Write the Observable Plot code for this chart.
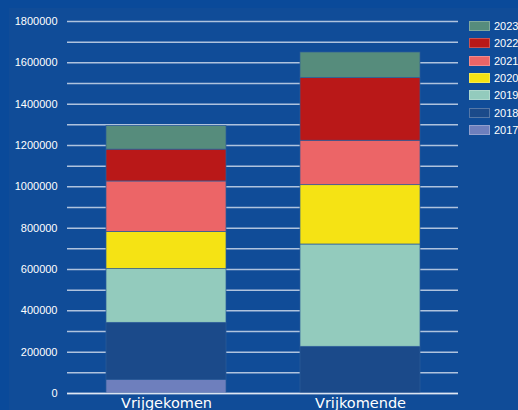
<!DOCTYPE html>
<html>
<head>
<meta charset="utf-8">
<script src="https://cdn.jsdelivr.net/npm/d3@7"></script>
<script src="https://cdn.jsdelivr.net/npm/@observablehq/plot@0.6"></script>
<style>
  html, body { margin: 0; padding: 0; background: #0a4a9a; }
  #wrap { position: relative; width: 518px; height: 410px; overflow: hidden; background: #0a4a9a; }
  #panel { position: absolute; left: 9px; top: 8px; right: 0; bottom: 0; background: #104c98; }
  #chart { position: absolute; left: 0; top: 0; }
  #legend { position: absolute; left: 469px; top: 21px; font-family: "Liberation Sans", Arial, sans-serif; font-size: 11px; color: #ffffff; }
  .row { display: flex; align-items: flex-start; height: 17.33px; }
  .row .sw { width: 21px; height: 10px; margin-right: 4px; box-sizing: border-box; border: 0.5px solid rgba(255,255,255,0.25); }
  .row .lab { line-height: 10px; white-space: nowrap; }
</style>
</head>
<body>
<div id="wrap">
  <div id="panel"></div>
  <div id="chart"></div>
  <div id="legend"></div>
</div>
<script>
const categories = ["Vrijgekomen", "Vrijkomende"];
const years = ["2017", "2018", "2019", "2020", "2021", "2022", "2023"];
const vrijgekomen = [66000, 276000, 260000, 180000, 244000, 154000, 114000];
const vrijkomende = [0, 226000, 495000, 287000, 215000, 303000, 124000];
const yTicks = [0, 200000, 400000, 600000, 800000, 1000000, 1200000, 1400000, 1600000, 1800000];
const gridTicks = [0, 100000, 200000, 300000, 400000, 500000, 600000, 700000, 800000, 900000, 1000000, 1100000, 1200000, 1300000, 1400000, 1500000, 1600000, 1700000, 1800000];
const colors = ["#6e7fbd", "#1b4a8a", "#93cbbd", "#f5e314", "#ec6567", "#b91818", "#568c7c"];

const series = [vrijgekomen, vrijkomende];
const data = [];
categories.forEach((c, i) => {
  years.forEach((y, j) => {
    if (series[i][j] > 0) data.push({category: c, year: y, value: series[i][j]});
  });
});

const chart = Plot.plot({
  width: 518,
  height: 410,
  marginLeft: 67,
  marginRight: 60,
  marginTop: 21,
  marginBottom: 17,
  style: {background: "transparent", color: "#ffffff", fontFamily: "'Liberation Sans', Arial, sans-serif", fontSize: "11px"},
  x: {domain: categories, paddingInner: 0.383, paddingOuter: 0.197, label: null},
  y: {domain: [0, 1800000], label: null},
  color: {domain: years, range: colors},
  marks: [
    Plot.gridY(gridTicks, {stroke: "#e4ebf5", strokeOpacity: 0.75, strokeWidth: 1.5}),
    Plot.barY(data, {x: "category", y: "value", fill: "year", stroke: "#2d5c99", strokeWidth: 0.7}),
    Plot.ruleY([0], {stroke: "#e4ebf5", strokeWidth: 1.5, strokeOpacity: 0.9}),
    Plot.axisY(yTicks, {tickSize: 0, tickPadding: 10, tickFormat: d => String(d), label: null, fill: "#ffffff"}),
    Plot.axisX({tickSize: 0, tickPadding: 4, label: null, fontSize: 14.5, fontFamily: "'DejaVu Sans', sans-serif", fill: "#ffffff"})
  ]
});
document.getElementById("chart").appendChild(chart);

const legend = document.getElementById("legend");
years.slice().reverse().forEach((y) => {
  const i = years.indexOf(y);
  const row = document.createElement("div");
  row.className = "row";
  const sw = document.createElement("div");
  sw.className = "sw";
  sw.style.background = colors[i];
  const lab = document.createElement("div");
  lab.className = "lab";
  lab.textContent = y;
  row.appendChild(sw);
  row.appendChild(lab);
  legend.appendChild(row);
});
</script>
</body>
</html>
